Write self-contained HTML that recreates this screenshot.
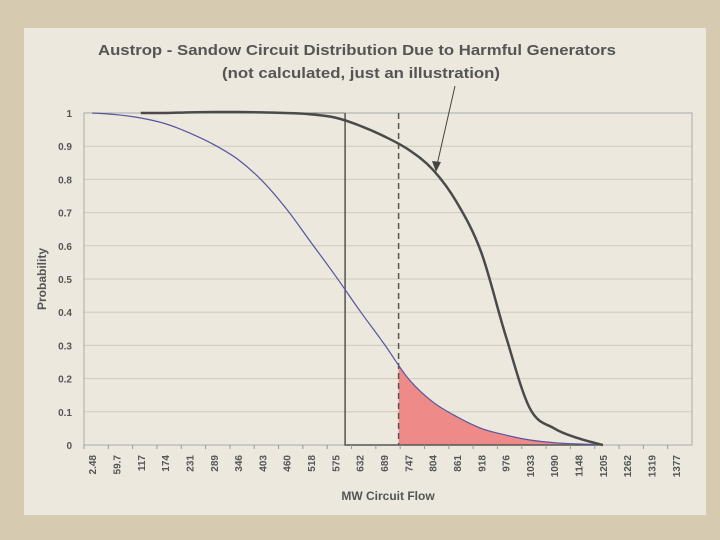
<!DOCTYPE html>
<html><head><meta charset="utf-8"><style>
html,body{margin:0;padding:0;width:720px;height:540px;overflow:hidden;background:#d6cbb0;font-family:"Liberation Sans",sans-serif}
</style></head><body>
<svg width="720" height="540" viewBox="0 0 720 540">
<rect x="0" y="0" width="720" height="540" fill="#d6cbb0"/>
<rect x="24" y="28" width="682" height="487" fill="#ece8dd"/>
<text x="357" y="55" text-anchor="middle" font-size="15" font-weight="bold" fill="#555" textLength="518" lengthAdjust="spacingAndGlyphs">Austrop - Sandow Circuit Distribution Due to Harmful Generators</text>
<text x="361" y="78" text-anchor="middle" font-size="15" font-weight="bold" fill="#555" textLength="278" lengthAdjust="spacingAndGlyphs">(not calculated, just an illustration)</text>
<g id="grid"></g>
<g id="marks"></g>
<g id="axes"></g>
<text transform="translate(46,279) rotate(-90)" text-anchor="middle" font-size="12" font-weight="bold" fill="#555">Probability</text>
<text x="388" y="500" text-anchor="middle" font-size="12" font-weight="bold" fill="#555">MW Circuit Flow</text>
</svg>
<script>
const categories=["2.48","59.7","117","174","231","289","346","403","460","518","575","632","689","747","804","861","918","976","1033","1090","1148","1205","1262","1319","1377"];
const blueValues=[1.0,0.995,0.985,0.968,0.94,0.905,0.86,0.795,0.71,0.61,0.51,0.405,0.305,0.2,0.13,0.085,0.05,0.03,0.015,0.007,0.003,0.001,null,null,null];
const darkValues=[null,null,1.0,1.0,1.002,1.003,1.003,1.002,1.0,0.996,0.986,0.962,0.93,0.89,0.83,0.73,0.58,0.33,0.11,0.05,0.02,0.0,null,null,null];
const yTicks=[0,0.1,0.2,0.3,0.4,0.5,0.6,0.7,0.8,0.9,1];
const yTickLabels=["0","0.1","0.2","0.3","0.4","0.5","0.6","0.7","0.8","0.9","1"];
const thresholdSolid=10.4, thresholdDashed=12.6;
const NS="http://www.w3.org/2000/svg";
const PL=84,PR=692,PT=113,PB=445;
const step=(PR-PL)/categories.length;
function xs(i){return PL+step*(i+0.5)-4;}
function ys(v){return PB-(PB-PT)*v;}
function mk(tag,attrs,parent){const e=document.createElementNS(NS,tag);for(const k in attrs)e.setAttribute(k,attrs[k]);document.getElementById(parent).appendChild(e);return e;}
yTicks.forEach((t,k)=>{
 const g=mk('line',{x1:PL,x2:PR,y1:ys(t),y2:ys(t),stroke:'#cfcabe','stroke-width':1},'grid');
 
 
 const tx=mk('text',{x:PL-12,y:ys(t)+4,'text-anchor':'end','font-size':10,'font-weight':'bold',fill:'#555'},'axes');
 tx.textContent=yTickLabels[k];
 
 
});
const plotFrame=mk('rect',{x:PL,y:PT,width:PR-PL,height:PB-PT,fill:'none',stroke:'#aaa','stroke-width':1},'grid');


categories.forEach((c,i)=>{
 const tk=mk('line',{x1:PL+step*i,x2:PL+step*i,y1:PB,y2:PB+4,stroke:'#999'},'axes');
 
 
 const x=xs(i)+4;
 const tx=mk('text',{transform:`translate(${x},${PB+10}) rotate(-90)`,'text-anchor':'end','font-size':10,'font-weight':'bold',fill:'#555'},'axes');
 tx.textContent=c;
 
 
});
function pts(arr){const p=[];arr.forEach((v,i)=>{if(v!==null)p.push([xs(i),ys(v)]);});return p;}
function smooth(p){
 let d='M'+p[0][0]+','+p[0][1];
 for(let i=0;i<p.length-1;i++){
  const p0=p[i-1]||p[i],p1=p[i],p2=p[i+1],p3=p[i+2]||p2;
  const c1=[p1[0]+(p2[0]-p0[0])/6,p1[1]+(p2[1]-p0[1])/6];
  const c2=[p2[0]-(p3[0]-p1[0])/6,p2[1]-(p3[1]-p1[1])/6];
  d+=` C${c1[0]},${c1[1]} ${c2[0]},${c2[1]} ${p2[0]},${p2[1]}`;
 }
 return d;
}
function interp(arr,f){const i=Math.floor(f),t=f-i;return arr[i]*(1-t)+arr[i+1]*t;}
function fx(f){return PL+step*(f+0.5)-4;}
const fp=[[fx(thresholdDashed),ys(interp(blueValues,thresholdDashed))]];
for(let i=Math.ceil(thresholdDashed);i<blueValues.length&&blueValues[i]!==null;i++)fp.push([xs(i),ys(blueValues[i])]);
let d=smooth(fp)+` L${fp[fp.length-1][0]},${PB} L${fp[0][0]},${PB} Z`;
const areaFill=mk('path',{d:d,fill:'#ee8a88',stroke:'none'},'marks');


const solidLine=mk('path',{d:`M${fx(thresholdSolid)},${PT} L${fx(thresholdSolid)},${PB} L${xs(21)},${PB}`,fill:'none',stroke:'#555','stroke-width':1.5},'marks');


const topLine=mk('line',{x1:xs(2),x2:fx(thresholdSolid),y1:PT,y2:PT,stroke:'#777','stroke-width':1},'marks');


const dashLine=mk('line',{x1:fx(thresholdDashed),x2:fx(thresholdDashed),y1:PT,y2:PB,stroke:'#555','stroke-width':1.5,'stroke-dasharray':'6,4'},'marks');


function drawLine(arr,color,w,name){
 const e=mk('path',{d:smooth(pts(arr)),fill:'none',stroke:color,'stroke-width':w,'stroke-linejoin':'round'},'marks');
 
 
}
drawLine(blueValues,'#5555a0',1.2,'blue-distribution-line');
drawLine(darkValues,'#4a4a4a',2.5,'harmful-generators-line');
const arrowLine=mk('line',{x1:455,y1:86,x2:437,y2:165,stroke:'#444','stroke-width':1},'marks');


const arrowHead=mk('path',{d:'M436,172 L432,161 L441,162 Z',fill:'#444'},'marks');


</script>
</body></html>
